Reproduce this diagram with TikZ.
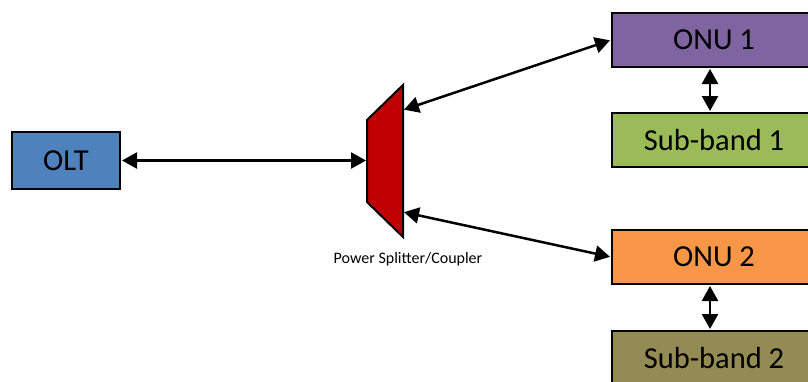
\documentclass[tikz,border=0pt]{standalone}
\usepackage{fontspec}
\setmainfont{Carlito}
\usetikzlibrary{arrows.meta}
\definecolor{oltblue}{HTML}{4F81BD}
\definecolor{onupurple}{HTML}{8064A2}
\definecolor{subgreen}{HTML}{9BBB59}
\definecolor{onuorange}{HTML}{F79646}
\definecolor{subolive}{HTML}{948A54}
\definecolor{splitred}{HTML}{C00000}
\tikzset{
  blk/.style={draw=black, line width=2pt, inner sep=0pt, minimum height=54pt,
    font=\fontsize{30.5}{34}\selectfont, anchor=north west},
  link/.style={line width=2.5pt, {Triangle[length=15pt,width=16pt]}-{Triangle[length=15pt,width=16pt]}, shorten <=1pt, shorten >=1pt},
}
\begin{document}
\begin{tikzpicture}[x=1pt,y=-1pt]
\useasboundingbox (0,0) rectangle (808,381);
\clip (0,0) rectangle (808,381);
\node[blk, fill=oltblue, minimum width=108pt, minimum height=57pt] (olt) at (11,131) {OLT};
\node[blk, fill=onupurple, minimum width=204pt] (onu1) at (611,12) {ONU 1};
\node[blk, fill=subgreen, minimum width=204pt] (sub1) at (611,112) {Sub-band 1};
\node[blk, fill=onuorange, minimum width=204pt] (onu2) at (611,229) {ONU 2};
\node[blk, fill=subolive, minimum width=204pt] (sub2) at (611,330) {Sub-band 2};
% splitter
\draw[fill=splitred, line width=2pt, line join=miter] (367,120) -- (403,85) -- (403,237) -- (367,202) -- cycle;
\coordinate (splin) at (367,160);
\coordinate (splo1) at (403,110);
\coordinate (splo2) at (403,212);
\node[font=\fontsize{16}{19}\selectfont] (spllabel) at (408,259) {Power Splitter/Coupler};
\draw[link] (olt.east) -- (olt.east -| splin);
\draw[link] (splo1) -- (onu1.west);
\draw[link] (splo2) -- (onu2.west);
\draw[link] ([xshift=-4pt]onu1.south) -- ([xshift=-4pt]sub1.north);
\draw[link] ([xshift=-4pt]onu2.south) -- ([xshift=-4pt]sub2.north);
\end{tikzpicture}
\end{document}
